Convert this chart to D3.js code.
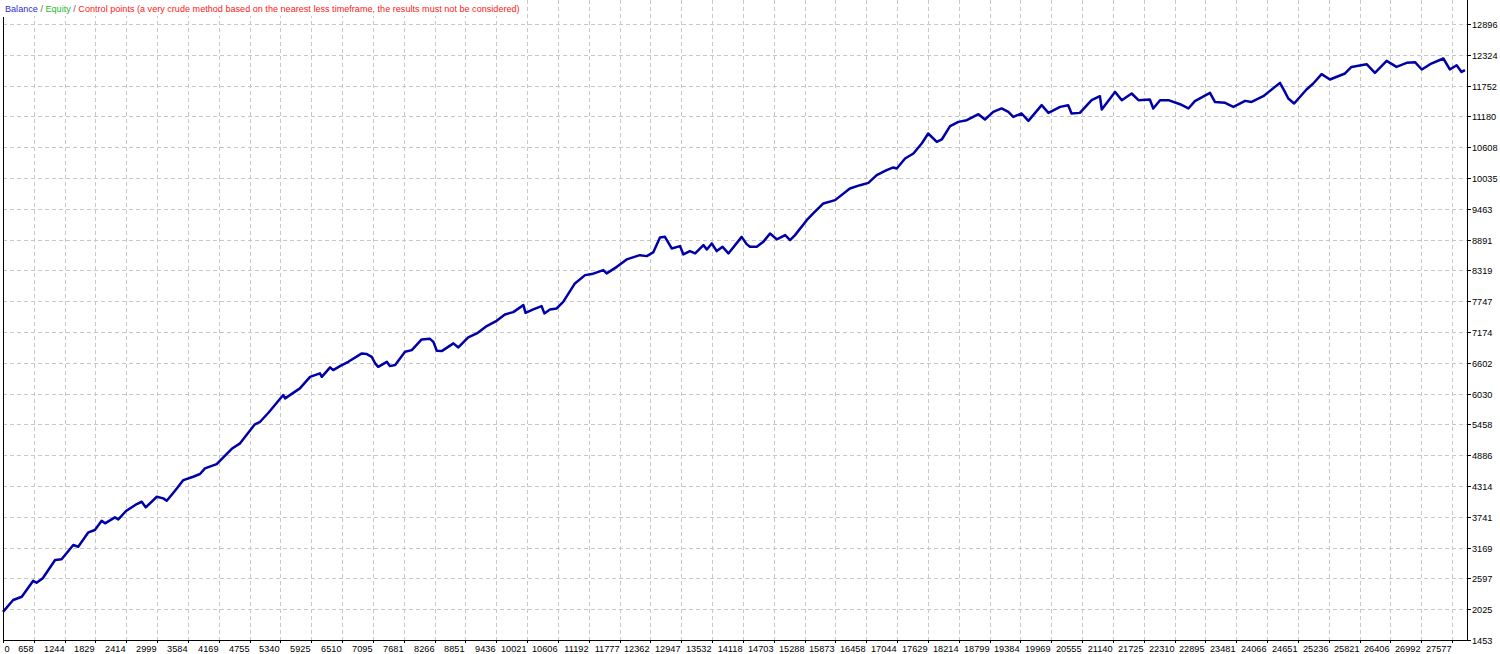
<!DOCTYPE html>
<html><head><meta charset="utf-8">
<script src="https://cdn.jsdelivr.net/npm/d3@7"></script>
<style>html,body{margin:0;padding:0;background:#fff;overflow:hidden}</style>
</head><body>
<svg id="c" width="1500" height="654"></svg>
<script>
// x positions are in axis divisions (one division between consecutive x tick labels)
const xTickLabels = [0,658,1244,1829,2414,2999,3584,4169,4755,5340,5925,6510,7095,7681,8266,8851,9436,10021,10606,11192,11777,12362,12947,13532,14118,14703,15288,15873,16458,17044,17629,18214,18799,19384,19969,20555,21140,21725,22310,22895,23481,24066,24651,25236,25821,26406,26992,27577];
const yTickLabels = [1453,2025,2597,3169,3741,4314,4886,5458,6030,6602,7174,7747,8319,8891,9463,10035,10608,11180,11752,12324,12896];

const balanceX = [0,0.33,0.61,0.98,1.09,1.29,1.69,1.9,2.28,2.44,2.77,2.98,3.2,3.31,3.63,3.74,3.99,4.34,4.5,4.63,4.99,5.2,5.31,5.58,5.85,6.17,6.39,6.55,6.93,7.42,7.69,8.17,8.34,8.61,9.09,9.15,9.63,9.96,10.28,10.34,10.61,10.71,10.93,11.2,11.64,11.8,11.96,12.07,12.17,12.45,12.55,12.72,13.04,13.26,13.58,13.85,13.96,14.07,14.23,14.61,14.77,15.09,15.37,15.69,16.01,16.28,16.55,16.88,16.95,17.2,17.47,17.56,17.74,17.96,18.17,18.55,18.88,19.1,19.47,19.58,19.91,20.23,20.66,20.88,21.09,21.31,21.47,21.69,21.96,22.07,22.28,22.45,22.72,22.83,22.99,23.15,23.34,23.53,23.96,24.12,24.23,24.45,24.66,24.88,25.1,25.37,25.53,25.69,26.07,26.28,26.61,26.99,27.47,27.8,28.07,28.34,28.66,28.88,28.99,29.26,29.53,29.8,30.01,30.29,30.45,30.72,30.99,31.26,31.64,31.85,32.12,32.39,32.61,32.77,33.04,33.26,33.69,33.91,34.29,34.55,34.66,34.93,35.31,35.58,35.64,36.07,36.29,36.61,36.83,37.2,37.31,37.53,37.8,38.18,38.45,38.66,39.15,39.31,39.64,39.91,40.29,40.5,40.88,41.42,41.58,41.69,41.88,42.28,42.5,42.77,43.04,43.53,43.74,44.23,44.5,44.88,45.2,45.53,45.8,46.02,46.29,46.72,46.93,47.15,47.31,47.42];
const balanceY = [1975,2196,2257,2554,2517,2599,2939,2952,3217,3186,3453,3496,3668,3620,3732,3694,3849,3979,4021,3917,4114,4084,4040,4225,4424,4486,4536,4641,4721,5005,5106,5459,5507,5674,6003,5941,6127,6342,6406,6342,6517,6467,6541,6621,6777,6764,6714,6591,6528,6621,6541,6560,6807,6838,7037,7048,6992,6825,6820,6963,6888,7074,7148,7284,7382,7501,7544,7674,7531,7594,7655,7520,7594,7613,7735,8077,8231,8250,8324,8263,8385,8523,8602,8584,8653,8931,8942,8727,8770,8615,8677,8634,8788,8708,8820,8677,8757,8634,8942,8807,8757,8757,8849,9005,8894,8974,8881,8974,9252,9377,9563,9624,9841,9902,9945,10088,10181,10231,10212,10398,10491,10677,10862,10706,10751,10998,11078,11109,11221,11122,11264,11327,11264,11171,11234,11096,11388,11245,11356,11388,11234,11245,11481,11555,11308,11635,11481,11605,11481,11494,11327,11481,11481,11406,11327,11462,11616,11449,11431,11356,11468,11449,11555,11802,11635,11512,11419,11679,11791,11964,11865,11977,12099,12149,11988,12211,12099,12174,12186,12051,12149,12255,12051,12131,12006,12038];

(function () {
const svg = d3.select('#c');
const pLeft = 3, pRight = 1467, pBottom = 640, pTop = 0;
const x = d3.scaleLinear().domain([0, xTickLabels.length - 1]).range([pLeft, 1452]);
const y = d3.scaleLinear().domain([yTickLabels[0], yTickLabels[yTickLabels.length-1]]).range([pBottom, 24]);

const grid = svg.append('g').attr('stroke', '#c8c8c8').attr('stroke-width', 1).attr('stroke-dasharray', '4,3').attr('shape-rendering','crispEdges');
xTickLabels.forEach((l, i) => {
  if (i === 0) return;
  const px = Math.round(x(i)) + 0.5;
  grid.append('line').attr('x1', px).attr('x2', px).attr('y1', pTop).attr('y2', pBottom);
});
yTickLabels.forEach((l) => {
  if (l === yTickLabels[0]) return;
  const py = Math.round(y(l)) + 0.5;
  grid.append('line').attr('x1', pLeft).attr('x2', pRight).attr('y1', py).attr('y2', py);
});

// balance line
const pts = d3.zip(balanceX, balanceY);
const line = d3.line().x(d => x(d[0])).y(d => y(d[1]));
svg.append('path').datum(pts).attr('d', line).attr('fill', 'none')
  .attr('stroke', '#0000a8').attr('stroke-width', 2.5).attr('stroke-linejoin', 'round');

// legend background and text
svg.append('rect').attr('x', 0).attr('y', 0).attr('width', 520).attr('height', 16).attr('fill', '#fff');
const leg = svg.append('text').attr('x', 5).attr('y', 12)
  .attr('font-family', 'Liberation Sans, Arial, sans-serif').attr('font-size', 9.1);
leg.append('tspan').attr('fill', '#2b2bd0').text('Balance');
leg.append('tspan').attr('fill', '#606060').text(' / ');
leg.append('tspan').attr('fill', '#1fb81f').text('Equity');
leg.append('tspan').attr('fill', '#606060').text(' / ');
leg.append('tspan').attr('fill', '#ff2020').text('Control points (a very crude method based on the nearest less timeframe, the results must not be considered)');

// frame
const frame = svg.append('g').attr('stroke', '#000').attr('stroke-width', 1).attr('shape-rendering','crispEdges');
frame.append('line').attr('x1', pLeft + 0.5).attr('x2', pLeft + 0.5).attr('y1', 17).attr('y2', pBottom + 0.5);
frame.append('line').attr('x1', pLeft).attr('x2', pRight + 1).attr('y1', pBottom + 0.5).attr('y2', pBottom + 0.5);
frame.append('line').attr('x1', pRight + 0.5).attr('x2', pRight + 0.5).attr('y1', pTop).attr('y2', pBottom + 0.5);

// x axis ticks and labels
const xa = svg.append('g').attr('font-family', 'Liberation Sans, Arial, sans-serif').attr('font-size', 9.2).attr('fill', '#000');
xTickLabels.forEach((l, i) => {
  const px = Math.round(x(i)) + 0.5;
  frame.append('line').attr('x1', px).attr('x2', px).attr('y1', pBottom).attr('y2', pBottom + 3);
  xa.append('text').attr('x', i === 0 ? px + 1 : px - 1).attr('y', 652)
    .attr('text-anchor', i === 0 ? 'start' : 'end').text(l);
});
// y axis ticks and labels
const ya = svg.append('g').attr('font-family', 'Liberation Sans, Arial, sans-serif').attr('font-size', 9.2).attr('fill', '#000');
yTickLabels.forEach((l) => {
  const py = Math.round(y(l)) + 0.5;
  frame.append('line').attr('x1', pRight).attr('x2', pRight + 4).attr('y1', py).attr('y2', py);
  ya.append('text').attr('x', 1472).attr('y', py).attr('dy', '0.36em').text(l);
});
})();
</script>
</body></html>
